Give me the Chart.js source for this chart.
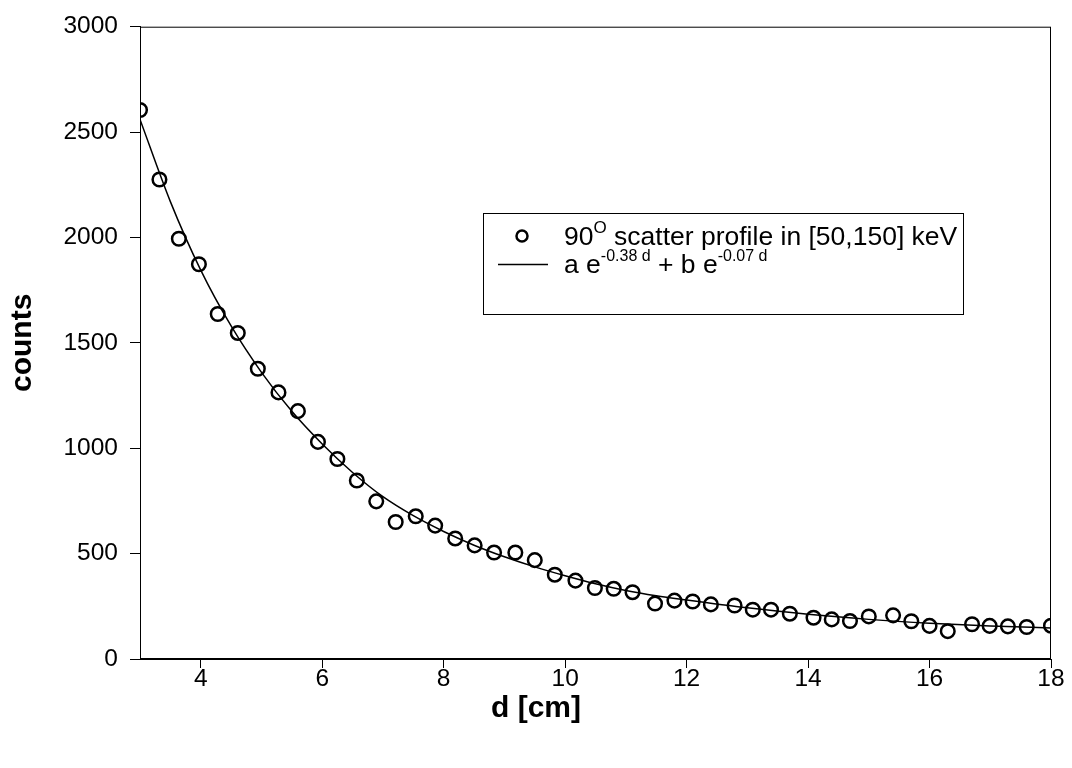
<!DOCTYPE html>
<html><head><meta charset="utf-8">
<script src="https://cdn.jsdelivr.net/npm/chart.js@4.4.1/dist/chart.umd.min.js"></script>
<style>html,body{margin:0;padding:0;background:#fff;}canvas{display:block;}</style>
</head><body>
<canvas id="c" width="1072" height="768"></canvas>
<script>
// ---- data ----
const scatterD = [3.00,3.32,3.64,3.97,4.28,4.61,4.94,5.28,5.60,5.93,6.25,6.57,6.89,7.21,7.54,7.86,8.19,8.51,8.83,9.18,9.50,9.83,10.17,10.49,10.80,11.11,11.48,11.80,12.10,12.40,12.79,13.09,13.39,13.70,14.09,14.39,14.69,15.00,15.40,15.70,16.00,16.30,16.70,16.99,17.29,17.60,18.00];
const scatterCounts = [2605,2275,1994,1873,1637,1547,1377,1265,1176,1030,949,847,748,650,677,633,572,539,505,505,469,400,372,337,333,317,263,277,273,259,254,234,234,215,196,188,180,202,207,179,157,132,165,157,155,152,158];
const fitD = [3,3.5,4,4.5,5,5.5,6,6.5,7,7.5,8,8.5,9,9.5,10,10.5,11,11.5,12,13,14,15,16,17,18];
const fitCounts = [2560,2170,1845,1580,1360,1175,1020,885,770,680,605,540,485,437,395,357,325,300,280,243,212,188,170,157,147];
const xTickValues = [4,6,8,10,12,14,16,18];
const yTickValues = [0,500,1000,1500,2000,2500,3000];
const xTitle = 'd [cm]';
const yTitle = 'counts';
const legendScatterParts = [{t:'90'},{t:'O',sup:true},{t:' scatter profile in [50,150] keV'}];
const legendFitParts = [{t:'a e'},{t:'-0.38 d',sup:true},{t:' + b e'},{t:'-0.07 d',sup:true}];

const FONT = '"Liberation Sans", Arial, Helvetica, sans-serif';

function drawParts(ctx, parts, x, y, size, supSize, supRaise) {
  for (const p of parts) {
    if (p.sup) {
      ctx.font = supSize + 'px ' + FONT;
      ctx.fillText(p.t, x, y - supRaise);
    } else {
      ctx.font = size + 'px ' + FONT;
      ctx.fillText(p.t, x, y);
    }
    x += ctx.measureText(p.t).width;
  }
}

const framePlugin = {
  id: 'frameAndLegend',
  afterDraw(chart) {
    const ctx = chart.ctx, a = chart.chartArea;
    ctx.save();
    ctx.strokeStyle = '#000';
    ctx.lineWidth = 1;
    ctx.strokeRect(a.left + 0.5, a.top + 0.5, a.right - a.left - 1, a.bottom - a.top - 1);
    // x axis title, centred on the page as in the reference
    ctx.fillStyle = '#000';
    ctx.font = 'bold 30px ' + FONT;
    ctx.textAlign = 'center';
    ctx.textBaseline = 'middle';
    ctx.fillText(xTitle, chart.width / 2, 709);
    // legend box
    const bx = 483, by = 213, bw = 480, bh = 101;
    ctx.fillStyle = '#fff';
    ctx.fillRect(bx, by, bw, bh);
    ctx.strokeRect(bx + 0.5, by + 0.5, bw, bh);
    // scatter symbol
    ctx.lineWidth = 2.5;
    ctx.beginPath();
    ctx.arc(522, 236, 5.5, 0, Math.PI * 2);
    ctx.stroke();
    // line symbol
    ctx.lineWidth = 1.5;
    ctx.beginPath();
    ctx.moveTo(498, 264.5);
    ctx.lineTo(548, 264.5);
    ctx.stroke();
    ctx.fillStyle = '#000';
    ctx.textBaseline = 'alphabetic';
    ctx.textAlign = 'left';
    drawParts(ctx, legendScatterParts, 564, 245, 26.5, 17, 12);
    drawParts(ctx, legendFitParts, 564, 273, 26.5, 16, 12);
    ctx.restore();
  }
};

new Chart(document.getElementById('c'), {
  type: 'scatter',
  data: {
    datasets: [
      {
        type: 'line',
        data: fitD.map((d, i) => ({x: d, y: fitCounts[i]})),
        borderColor: '#000',
        borderWidth: 1.5,
        pointRadius: 0,
        fill: false,
        cubicInterpolationMode: 'monotone',
        order: 2
      },
      {
        type: 'scatter',
        data: scatterD.map((d, i) => ({x: d, y: scatterCounts[i]})),
        borderColor: '#000',
        backgroundColor: 'rgba(0,0,0,0)',
        pointRadius: 6.8,
        pointBorderWidth: 2.5,
        pointBorderColor: '#000',
        pointBackgroundColor: 'rgba(0,0,0,0)',
        order: 1
      }
    ]
  },
  options: {
    responsive: false,
    animation: false,
    events: [],
    layout: {padding: {top: 21, right: 21, left: 0, bottom: 0}},
    plugins: {legend: {display: false}, tooltip: {enabled: false}},
    scales: {
      x: {
        type: 'linear',
        min: 3, max: 18,
        afterBuildTicks: s => { s.ticks = xTickValues.map(v => ({value: v})); },
        afterFit: s => { s.height = 109; },
        grid: {display: true, drawOnChartArea: false, drawTicks: true, tickLength: 9, color: '#000', tickColor: '#000', lineWidth: 1},
        border: {display: true, color: '#000', width: 1},
        ticks: {color: '#000', font: {family: FONT, size: 24.5}, padding: -3, maxRotation: 0, autoSkip: false, callback: v => String(v)},
        title: {display: false}
      },
      y: {
        type: 'linear',
        min: 0, max: 3000,
        afterBuildTicks: s => { s.ticks = yTickValues.map(v => ({value: v})); },
        afterFit: s => { s.width = 140; },
        grid: {display: true, drawOnChartArea: false, drawTicks: true, tickLength: 10, color: '#000', tickColor: '#000', lineWidth: 1},
        border: {display: true, color: '#000', width: 1},
        ticks: {color: '#000', font: {family: FONT, size: 24.5}, padding: 12, autoSkip: false, callback: v => String(v)},
        title: {display: true, text: yTitle, color: '#000', font: {family: FONT, size: 30, weight: 'bold'}, padding: {top: 5, bottom: 0}}
      }
    }
  },
  plugins: [framePlugin]
});
</script>
</body></html>
